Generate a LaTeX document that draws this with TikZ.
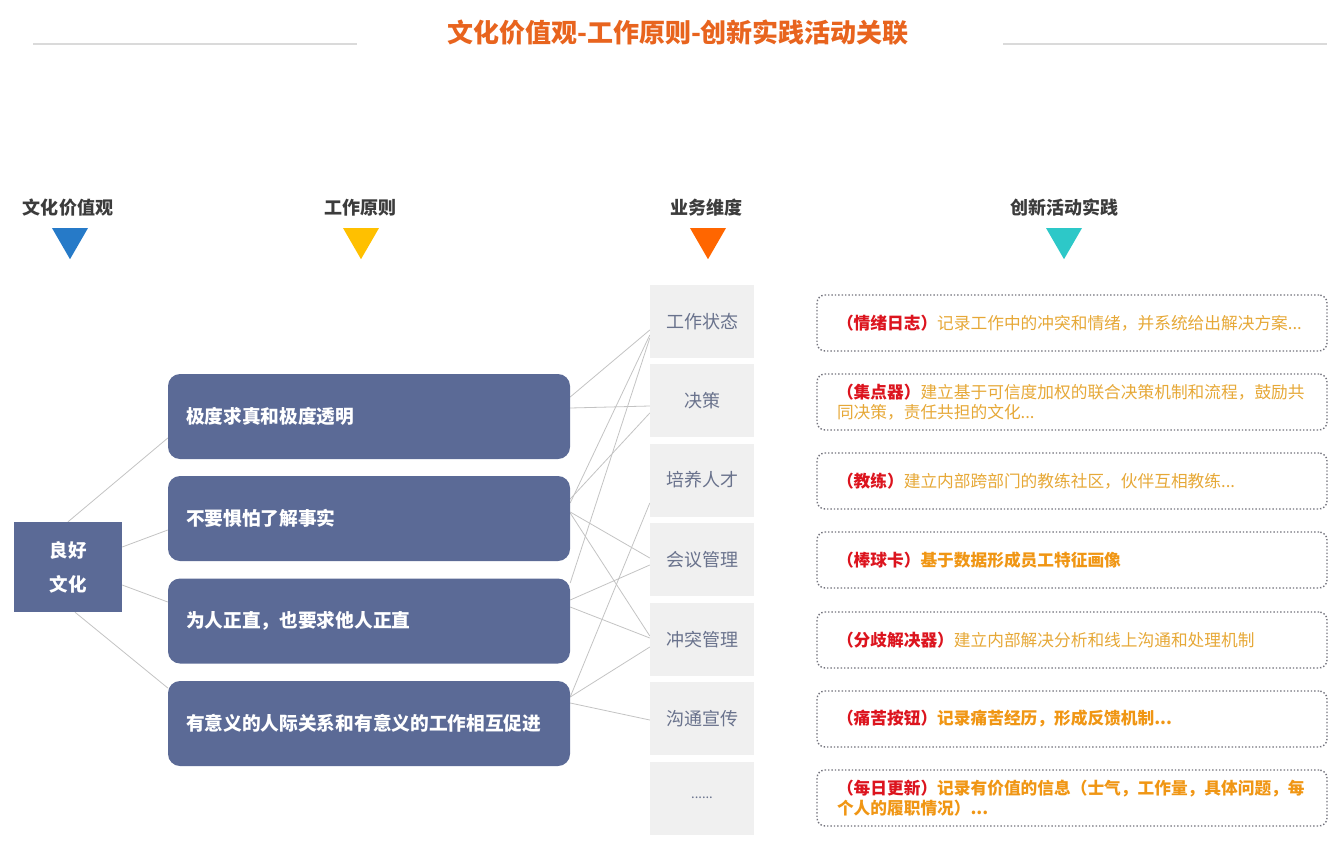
\documentclass[tikz,border=0pt]{standalone}
\usepackage{fontspec}
\setmainfont{Noto Sans CJK SC}
\usepackage{tikz}
\usetikzlibrary{positioning}
\usetikzlibrary{shapes.geometric}
\pgfdeclarelayer{background}
\pgfdeclarelayer{foreground}
\pgfsetlayers{background,main,foreground}

\definecolor{titleorange}{RGB}{232,100,30}
\definecolor{headgray}{RGB}{60,60,60}
\definecolor{rulegray}{RGB}{218,218,218}
\definecolor{triblue}{RGB}{38,122,200}
\definecolor{triyellow}{RGB}{255,192,0}
\definecolor{triorange}{RGB}{255,102,0}
\definecolor{triteal}{RGB}{45,200,200}
\definecolor{boxblue}{RGB}{91,106,150}
\definecolor{dimfill}{RGB}{240,240,240}
\definecolor{dimtext}{RGB}{105,114,140}
\definecolor{linegray}{RGB}{195,195,195}
\definecolor{dotgray}{RGB}{115,115,125}
\definecolor{tagred}{RGB}{220,20,30}
\definecolor{txtgold}{RGB}{230,168,55}
\definecolor{txtorange}{RGB}{240,150,20}

\begin{document}
\begin{tikzpicture}[x=1pt,y=-1pt,
						headnode/.style={text=headgray, font=\fontsize{18}{22}\selectfont\bfseries, inner sep=0},
						trinode/.style={regular polygon, regular polygon sides=3, shape border rotate=180, minimum size=41.6, inner sep=0},
						culturenode/.style={fill=boxblue, minimum width=108, minimum height=90, inner sep=0, align=center, text=white, font=\fontsize{18.5}{34}\selectfont\bfseries},
						rulenode/.style={fill=boxblue, rounded corners=12, minimum width=402, minimum height=85, text width=366, inner xsep=18, align=left, text=white, font=\fontsize{18.7}{22}\selectfont\bfseries},
						dimnode/.style={fill=dimfill, minimum width=104, minimum height=73, inner sep=0, text=dimtext, font=\fontsize{18}{22}\selectfont},
						practnode/.style={draw=dotgray, dotted, line width=1.4, rounded corners=8, minimum width=510, minimum height=56, text width=470, inner xsep=20, align=left, font=\fontsize{16.7}{20}\selectfont},
						conn/.style={draw=linegray, line width=0.8},
						]
						\useasboundingbox (0,0) rectangle (1341,851);
						%Title
						\node[text=titleorange, font=\fontsize{26}{30}\selectfont\bfseries] (title) at (678,33) {文化价值观-工作原则-创新实践活动关联};
						\draw[rulegray, line width=1.6] (33,44) -- (357,44);
						\draw[rulegray, line width=1.6] (1003,44) -- (1327,44);
						%Headers
						\node[headnode] (h1) at (68,208)   {文化价值观};
						\node[headnode] (h2) at (360,208)  {工作原则};
						\node[headnode] (h3) at (706,208)  {业务维度};
						\node[headnode] (h4) at (1064,208) {创新活动实践};
						\node[trinode, fill=triblue]   (t1) at (70,238.4)   {};
						\node[trinode, fill=triyellow] (t2) at (361,238.4)  {};
						\node[trinode, fill=triorange] (t3) at (708,238.4)  {};
						\node[trinode, fill=triteal]   (t4) at (1064,238.4) {};
						%Nodes
						\node[culturenode] (c)  at (68,567)    {良好\\文化};
						\node[rulenode]    (p1) at (369,416.5) {极度求真和极度透明};
						\node[rulenode]    (p2) at (369,518.5) {不要惧怕了解事实};
						\node[rulenode]    (p3) at (369,621)   {为人正直，也要求他人正直};
						\node[rulenode]    (p4) at (369,723.5) {有意义的人际关系和有意义的工作相互促进};
						\node[dimnode]     (d1) at (702,321.5) {工作状态};
						\node[dimnode]     (d2) at (702,400.5) {决策};
						\node[dimnode]     (d3) at (702,480)   {培养人才};
						\node[dimnode]     (d4) at (702,559.5) {会议管理};
						\node[dimnode]     (d5) at (702,639.5) {冲突管理};
						\node[dimnode]     (d6) at (702,718.5) {沟通宣传};
						\node[dimnode, font=\fontsize{13}{16}\selectfont] (d7) at (702,798) {......};
						\node[practnode] (r1) at (1072,323) {{\color{tagred}\bfseries （情绪日志）}{\color{txtgold}记录工作中的冲突和情绪，并系统给出解决方案...}};
						\node[practnode] (r2) at (1072,402) {{\color{tagred}\bfseries （集点器）}{\color{txtgold}建立基于可信度加权的联合决策机制和流程，鼓励共}\\{\color{txtgold}同决策，责任共担的文化...}};
						\node[practnode] (r3) at (1072,481) {{\color{tagred}\bfseries （教练）}{\color{txtgold}建立内部跨部门的教练社区，伙伴互相教练...}};
						\node[practnode] (r4) at (1072,560) {{\color{tagred}\bfseries （棒球卡）}{\color{txtorange}\bfseries 基于数据形成员工特征画像}};
						\node[practnode] (r5) at (1072,640) {{\color{tagred}\bfseries （分歧解决器）}{\color{txtgold}建立内部解决分析和线上沟通和处理机制}};
						\node[practnode] (r6) at (1072,719) {{\color{tagred}\bfseries （痛苦按钮）}{\color{txtorange}\bfseries 记录痛苦经历，形成反馈机制...}};
						\node[practnode] (r7) at (1072,798) {{\color{tagred}\bfseries （每日更新）}{\color{txtorange}\bfseries 记录有价值的信息（士气，工作量，具体问题，每}\\{\color{txtorange}\bfseries 个人的履职情况）...}};

						\begin{pgfonlayer}{background}
						%Lines
						\draw[conn] (c.north) -- ([yshift=-21.5]p1.west);
						\draw[conn] ([yshift=20]c.east) -- ([yshift=-11.5]p2.west);
						\draw[conn] ([yshift=-18]c.east) -- ([yshift=19]p3.west);
						\draw[conn] ([xshift=7]c.south) -- ([yshift=35.5]p4.west);
						\draw[conn] ([yshift=19.5]p1.east) -- ([yshift=-8.5]d1.west);
						\draw[conn] ([yshift=8.5]p1.east) -- ([yshift=-5.5]d2.west);
						\draw[conn] ([yshift=15.5]p2.east) -- ([yshift=-13.5]d1.west);
						\draw[conn] ([yshift=19.5]p2.east) -- ([yshift=-12.5]d2.west);
						\draw[conn] ([yshift=6.5]p2.east) -- ([yshift=1.5]d4.west);
						\draw[conn] ([yshift=5.5]p2.east) -- ([yshift=3.5]d5.west);
						\draw[conn] ([yshift=38]p3.east) -- ([yshift=-16.5]d1.west);
						\draw[conn] ([yshift=21]p3.east) -- ([yshift=-5.5]d4.west);
						\draw[conn] ([yshift=14]p3.east) -- ([yshift=1.5]d5.west);
						\draw[conn] ([yshift=26.5]p4.east) -- ([yshift=-23]d3.west);
						\draw[conn] ([yshift=26.5]p4.east) -- ([yshift=-7.5]d5.west);
						\draw[conn] ([yshift=20.5]p4.east) -- ([yshift=-1.5]d6.west);
						\end{pgfonlayer}
					\end{tikzpicture}
\end{document}
